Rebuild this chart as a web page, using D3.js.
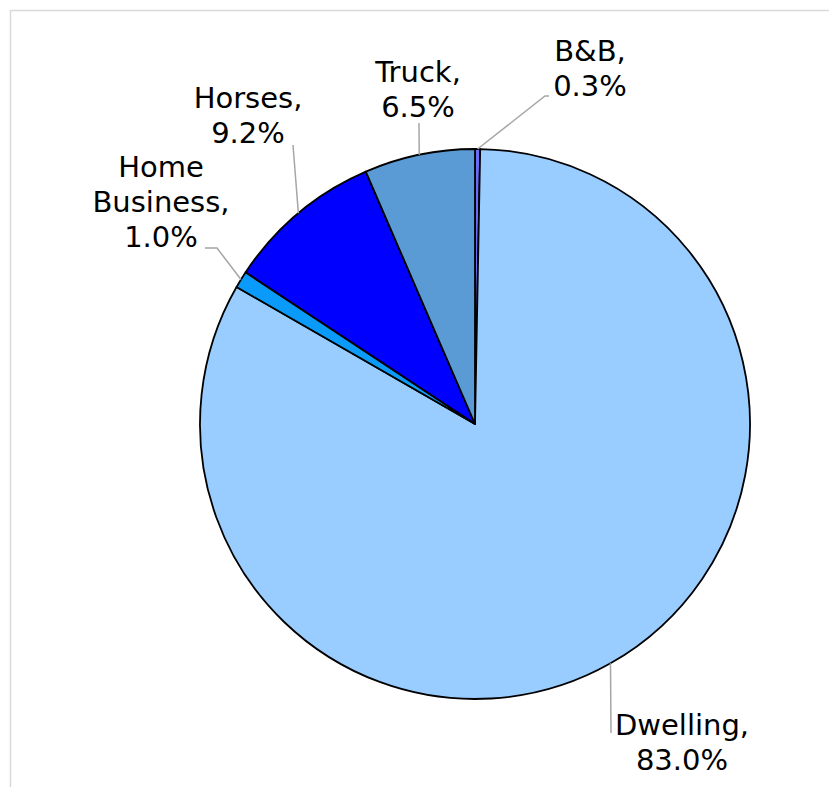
<!DOCTYPE html>
<html>
<head>
<meta charset="utf-8">
<script src="https://cdn.jsdelivr.net/npm/d3@7/dist/d3.min.js"></script>
<style>
  html, body { margin: 0; padding: 0; background: #fff; }
  svg { display: block; }
  text { font-family: Verdana, "DejaVu Sans", sans-serif; font-size: 29px; fill: #000; }
</style>
</head>
<body>
<svg id="chart" width="829" height="787"></svg>
<script>
// Data (clockwise from 12 o'clock)
const categories = ["B&B", "Dwelling", "Home Business", "Horses", "Truck"];
const values = [0.3, 83.0, 1.0, 9.2, 6.5];
const labelLines = [["B&B,", "0.3%"], ["Dwelling,", "83.0%"], ["Home", "Business,", "1.0%"], ["Horses,", "9.2%"], ["Truck,", "6.5%"]];
const colors = ["#6B6BF5", "#99CCFF", "#0A9BFA", "#0000FF", "#5B9BD5"];

// Layout (label placement relative to pie centre)
const cx = 475, cy = 424, r = 275;
const labelPos = [
  { x: 115, y: -363, leader: [[70, -328], [74, -328]], anchor: "middle" },   // B&B
  { x: 207, y: 311, leader: [[136, 309]], anchor: "middle" },                // Dwelling
  { x: -314, y: -247, leader: [[-258, -176], [-270, -176]], anchor: "middle" }, // Home Business
  { x: -227, y: -316, leader: [[-182, -279]], anchor: "middle" },            // Horses
  { x: -57, y: -342, leader: [[-56, -301]], anchor: "middle" }              // Truck
];

const svg = d3.select("#chart");

// chart border
svg.append("rect")
  .attr("x", 10.5).attr("y", 10.5)
  .attr("width", 900).attr("height", 900)
  .attr("fill", "none")
  .attr("stroke", "#D9D9D9")
  .attr("stroke-width", 1.5);

const data = categories.map((c, i) => ({ cat: c, value: values[i], lines: labelLines[i], color: colors[i], lp: labelPos[i] }));

const pie = d3.pie().value(d => d.value).sort(null);
const arc = d3.arc().innerRadius(0).outerRadius(r);
const arcs = pie(data);

const g = svg.append("g").attr("transform", `translate(${cx},${cy})`);

g.selectAll("path.slice")
  .data(arcs)
  .join("path")
  .attr("class", "slice")
  .attr("d", arc)
  .attr("fill", d => d.data.color)
  .attr("stroke", "#000")
  .attr("stroke-width", 1.8)
  .attr("stroke-linejoin", "round");

// leader lines
const line = d3.line();
g.selectAll("path.leader")
  .data(arcs)
  .join("path")
  .attr("class", "leader")
  .attr("d", d => {
    const mid = (d.startAngle + d.endAngle) / 2;
    const start = [r * Math.sin(mid), -r * Math.cos(mid)];
    return line([start, ...d.data.lp.leader]);
  })
  .attr("fill", "none")
  .attr("stroke", "#A6A6A6")
  .attr("stroke-width", 1.5);

// labels
const lineH = 35;
const labels = g.selectAll("text.label")
  .data(arcs)
  .join("text")
  .attr("class", "label")
  .attr("text-anchor", d => d.data.lp.anchor)
  .attr("x", d => d.data.lp.x)
  .attr("y", d => d.data.lp.y);

labels.selectAll("tspan")
  .data(d => d.data.lines.map((t, i) => ({ t, i, x: d.data.lp.x })))
  .join("tspan")
  .attr("x", d => d.x)
  .attr("dy", d => d.i === 0 ? 0 : lineH)
  .text(d => d.t);
</script>
</body>
</html>
